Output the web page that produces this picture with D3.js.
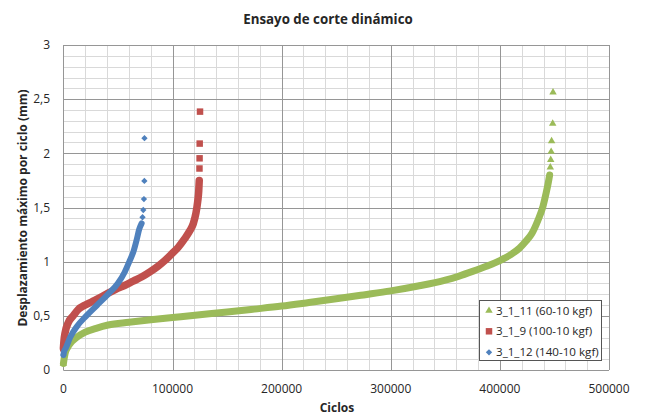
<!DOCTYPE html>
<html>
<head>
<meta charset="utf-8">
<script src="https://cdn.jsdelivr.net/npm/d3@7/dist/d3.min.js"></script>
<style>
  body { margin: 0; background: #fff; }
  text { font-family: "Open Sans", sans-serif; fill: #262626; }
  .title, .axis-title { font-weight: bold; }
  .tick-label { font-size: 12px; }
  .legend text { font-size: 11.6px; }
</style>
</head>
<body>
<svg id="chart" width="646" height="416"></svg>
<script>
// [ciclos, desplazamiento mm]
var greenPts = [[0,0.06],[1500,0.15],[4000,0.21],[7500,0.26],[12000,0.30],[20000,0.35],[30000,0.385],
  [41000,0.415],[60000,0.44],[80000,0.463],[100000,0.484],[125000,0.51],[150000,0.535],[175000,0.562],
  [200000,0.59],[225000,0.623],[250000,0.657],[275000,0.693],[300000,0.73],[325000,0.775],[350000,0.83],
  [362000,0.865],[375000,0.91],[387000,0.955],[400000,1.01],[410000,1.065],[418000,1.125],[424000,1.19],
  [429300,1.26],[435000,1.385],[439500,1.51],[442300,1.63],[444200,1.72],[445600,1.80]];
var greenTail = [[446200,1.87],[446600,1.94],[447000,2.015],[447400,2.114],[448400,2.274],[448700,2.563]];

var redPts = [[0,0.20],[500,0.27],[1500,0.34],[4600,0.44],[9000,0.50],[13700,0.56],[20000,0.60],
  [26000,0.63],[34000,0.67],[41000,0.71],[48000,0.745],[56000,0.78],[64000,0.82],[72000,0.86],
  [80000,0.91],[87000,0.96],[93000,1.01],[99000,1.07],[105000,1.13],[111000,1.21],[115500,1.28],
  [119000,1.35],[121500,1.45],[123000,1.55],[124000,1.65],[124500,1.75]];
var redTail = [[124700,1.86],[124800,1.954],[124900,2.09],[125200,2.385]];

var bluePts = [[0,0.138],[600,0.17],[2100,0.2],[6100,0.3],[12200,0.4],[21000,0.5],[31000,0.6],
  [41000,0.7],[50000,0.8],[56000,0.9],[60400,1.0],[64400,1.1],[67100,1.2],[69500,1.3],[71700,1.354]];
var blueTail = [[72500,1.41],[73200,1.477],[73800,1.578],[74200,1.745],[74300,2.14]];

var seriesNames = ["3_1_11 (60-10 kgf)", "3_1_9 (100-10 kgf)", "3_1_12 (140-10 kgf)"];
var xTicks = [0, 100000, 200000, 300000, 400000, 500000];
var yTicks = [0, 0.5, 1, 1.5, 2, 2.5, 3];

var svg = d3.select("#chart");
var x = d3.scaleLinear().domain([0, 500000]).range([63.4, 609]);
var y = d3.scaleLinear().domain([0, 3]).range([370, 45]);

var grid = svg.append("g");
// minor grid
grid.selectAll(".vminor").data(d3.range(0, 500001, 20000)).enter().append("line")
  .attr("x1", d => Math.round(x(d)) + 0.5).attr("x2", d => Math.round(x(d)) + 0.5)
  .attr("y1", y(0)).attr("y2", y(3)).attr("stroke", "#d9d9d9");
grid.selectAll(".hminor").data(d3.range(0, 31).map(d => d / 10)).enter().append("line")
  .attr("y1", d => Math.round(y(d)) + 0.5).attr("y2", d => Math.round(y(d)) + 0.5)
  .attr("x1", x(0)).attr("x2", x(500000)).attr("stroke", "#d9d9d9");
// major grid
grid.selectAll(".vmajor").data(xTicks).enter().append("line")
  .attr("x1", d => Math.round(x(d)) + 0.5).attr("x2", d => Math.round(x(d)) + 0.5)
  .attr("y1", y(0)).attr("y2", y(3)).attr("stroke", "#969696");
grid.selectAll(".hmajor").data(yTicks).enter().append("line")
  .attr("y1", d => Math.round(y(d)) + 0.5).attr("y2", d => Math.round(y(d)) + 0.5)
  .attr("x1", x(0)).attr("x2", x(500000)).attr("stroke", "#969696");

// tick labels
svg.append("g").selectAll("text").data(yTicks).enter().append("text")
  .attr("class", "tick-label").attr("x", 50).attr("y", d => y(d)).attr("dy", "0.36em")
  .attr("text-anchor", "end").text(d => String(d).replace(".", ","));
svg.append("g").selectAll("text").data(xTicks).enter().append("text")
  .attr("class", "tick-label").attr("x", d => x(d)).attr("y", 393)
  .attr("text-anchor", "middle").text(d => d);

// titles
svg.append("text").attr("class", "title").attr("x", 328).attr("y", 24)
  .attr("text-anchor", "middle").style("font-size", "13.3px").text("Ensayo de corte dinámico");
svg.append("text").attr("class", "axis-title").attr("x", 337).attr("y", 412)
  .attr("text-anchor", "middle").style("font-size", "12px").text("Ciclos");
svg.append("text").attr("class", "axis-title")
  .attr("transform", "translate(26.5,208) rotate(-90)")
  .attr("text-anchor", "middle").style("font-size", "12px").text("Desplazamiento máximo por ciclo (mm)");

var triangle = d3.symbol().type(d3.symbolTriangle).size(24)();
var square = d3.symbol().type(d3.symbolSquare).size(42)();
var diamond = d3.symbol().type(d3.symbolSquare).size(20)();

var series = [
  { pts: greenPts, tail: greenTail, color: "#9bbb59", shape: triangle, rot: 0, w: 7 },
  { pts: redPts, tail: redTail, color: "#c0504d", shape: square, rot: 0, w: 7.5 },
  { pts: bluePts, tail: blueTail, color: "#4f81bd", shape: diamond, rot: 45, w: 6 }
];

var line = d3.line().x(d => x(d[0])).y(d => y(d[1])).curve(d3.curveMonotoneX);

series.forEach(function(s) {
  var g = svg.append("g");
  // dense run of markers drawn as a thick band
  g.append("path").attr("d", line(s.pts)).attr("fill", "none")
    .attr("stroke", s.color).attr("stroke-width", s.w).attr("stroke-linecap", "round");
  // first point and the isolated markers at the top
  g.selectAll("path.mk").data([s.pts[0]].concat(s.tail)).enter().append("path")
    .attr("class", "mk").attr("d", s.shape).attr("fill", s.color)
    .attr("transform", d => "translate(" + x(d[0]) + "," + y(d[1]) + ") rotate(" + s.rot + ")");
});

// legend
var lg = svg.append("g").attr("class", "legend");
lg.append("rect").attr("x", 479.5).attr("y", 300.5).attr("width", 122).attr("height", 60)
  .attr("fill", "#fff").attr("stroke", "#555");
var rowY = [310.7, 331.3, 352.3];
series.forEach(function(s, i) {
  lg.append("path").attr("d", s.shape).attr("fill", s.color)
    .attr("transform", "translate(489," + rowY[i] + ") rotate(" + s.rot + ")");
  lg.append("text").attr("x", 496).attr("y", rowY[i]).attr("dy", "0.36em").text(seriesNames[i]);
});
</script>
</body>
</html>
